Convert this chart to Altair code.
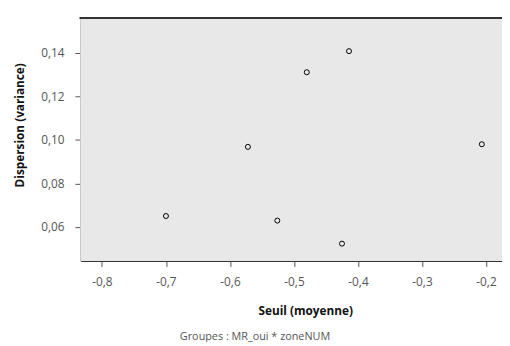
import altair as alt
import pandas as pd

seuil = [-0.700, -0.572, -0.480, -0.414, -0.526, -0.425, -0.2065]
dispersion = [0.0650, 0.0968, 0.1311, 0.1408, 0.0629, 0.0523, 0.0980]
x_ticks = [-0.8, -0.7, -0.6, -0.5, -0.4, -0.3, -0.2]
y_ticks = [0.06, 0.08, 0.10, 0.12, 0.14]
caption = "Groupes : MR_oui * zoneNUM"

df = pd.DataFrame({"seuil": seuil, "dispersion": dispersion})

W, H = 428, 246
FONT = "Open Sans"
LBL = "replace(replace(datum.label, '.', ','), '\u2212', '-')"

points = alt.Chart(df).mark_point(
    shape="circle", filled=False, color="black", strokeWidth=1, size=26, opacity=1
).encode(
    x=alt.X("seuil:Q",
            scale=alt.Scale(domain=[-0.833, -0.175], nice=False, zero=False),
            axis=alt.Axis(values=x_ticks, format=".1f", labelExpr=LBL,
                          title="Seuil (moyenne)", grid=False,
                          domainColor="#333", domainWidth=2,
                          tickColor="#555", tickSize=6, labelPadding=10,
                          labelColor="#555", labelFontSize=12, labelFont=FONT,
                          titleFont=FONT, titleFontSize=12, titleFontWeight="bold",
                          titleColor="#111", titleBaseline="middle",
                          titleX=228, titleY=51)),
    y=alt.Y("dispersion:Q",
            scale=alt.Scale(domain=[0.0445, 0.1558], nice=False, zero=False),
            axis=alt.Axis(values=y_ticks, format=".2f", labelExpr=LBL,
                          title="Dispersion (variance)", grid=False,
                          domainColor="#333", domainWidth=2,
                          tickColor="#555", tickSize=6, labelPadding=11,
                          labelColor="#555", labelFontSize=12, labelFont=FONT,
                          titleFont=FONT, titleFontSize=12, titleFontWeight="bold",
                          titleColor="#111", titleBaseline="middle",
                          titleX=-62, titleY=108)),
)

bg = alt.Chart(df).mark_rect(color="#e8e8e8").encode(
    x=alt.value(0), x2=alt.value(W), y=alt.value(0), y2=alt.value(H)
)

top_border = alt.Chart(df).mark_rule(color="#333", strokeWidth=1.2).encode(
    x=alt.value(-1), x2=alt.value(W), y=alt.value(-0.5)
)

cap = alt.Chart(pd.DataFrame({"t": [caption]})).mark_text(
    font=FONT, fontSize=11, color="#555", align="center", baseline="middle"
).encode(text="t:N", x=alt.value(177), y=alt.value(324))

chart = alt.layer(bg, top_border, points, cap).properties(
    width=W, height=H,
    autosize=alt.AutoSizeParams(type="none"),
    padding={"left": 74, "top": 8, "right": 0, "bottom": 80},
).configure_view(stroke=None).configure(background="white")

chart.save("out.html", embed_options={"renderer": "svg", "actions": False})
